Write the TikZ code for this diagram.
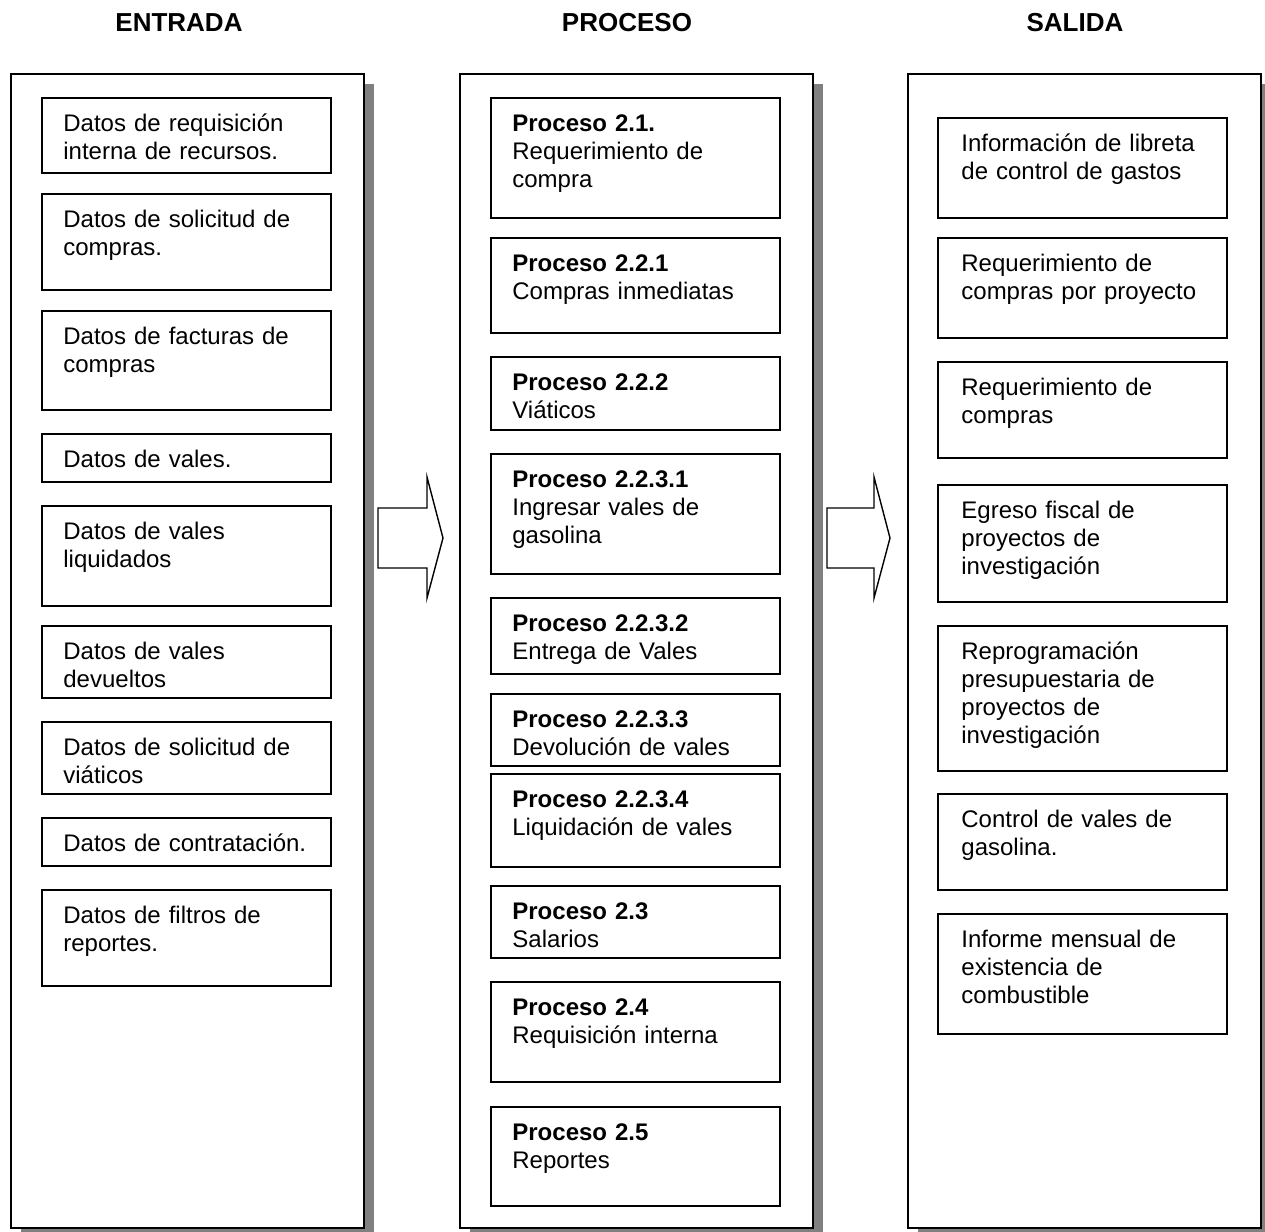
\documentclass[tikz,border=0pt]{standalone}
\usepackage{fontspec}
\setmainfont{Liberation Sans}
\usetikzlibrary{positioning, shadows}

\begin{document}
\begin{tikzpicture}[
    x=0.5pt, y=-0.5pt,
    header/.style={font=\fontsize{13}{15}\selectfont\bfseries, inner sep=0, anchor=base},
    panel/.style={draw, line width=0.9pt, fill=white, anchor=north west, minimum width=176.5pt, minimum height=577pt,
        drop shadow={shadow xshift=5pt, shadow yshift=-5pt, fill=black!50, opacity=1}},
    caja/.style={draw, line width=0.85pt, fill=white, minimum width=144.5pt, inner sep=0, outer sep=0},
    txt/.style={font=\fontsize{12}{14}\selectfont, inner sep=0, anchor=base west, text width=135pt, align=left},
    flecha/.style={draw, line width=0.7pt, fill=white, line join=miter}
]
    \useasboundingbox (0,0) rectangle (1265,1232);

    % Titles
    \node[header] (hent) at (179,31) {ENTRADA};
    \node[header] (hpro) at (627,31) {PROCESO};
    \node[header] (hsal) at (1075,31) {SALIDA};

    % Panels
    \node[panel] (entrada) at (10,73) {};
    \node[panel] (proceso) at (459,73) {};
    \node[panel] (salida) at (907,73) {};

    % Entrada
    \node[caja, anchor=north west, minimum height=37.5pt] (e1) at (42,98) {};
    \node[caja, below=10.5pt of e1, minimum height=48pt] (e2) {};
    \node[caja, below=10.5pt of e2, minimum height=49.5pt] (e3) {};
    \node[caja, below=12pt of e3, minimum height=24pt] (e4) {};
    \node[caja, below=12pt of e4, minimum height=50pt] (e5) {};
    \node[caja, below=10pt of e5, minimum height=36pt] (e6) {};
    \node[caja, below=12pt of e6, minimum height=36pt] (e7) {};
    \node[caja, below=12pt of e7, minimum height=24pt] (e8) {};
    \node[caja, below=12pt of e8, minimum height=48pt] (e9) {};

    \node[txt] (e1t) at ([xshift=10.5pt, yshift=-16.5pt]e1.north west) {Datos de requisición\\interna de recursos.};
    \node[txt] (e2t) at ([xshift=10.5pt, yshift=-16.5pt]e2.north west) {Datos de solicitud de\\compras.};
    \node[txt] (e3t) at ([xshift=10.5pt, yshift=-16.5pt]e3.north west) {Datos de facturas de\\compras};
    \node[txt] (e4t) at ([xshift=10.5pt, yshift=-16.5pt]e4.north west) {Datos de vales.};
    \node[txt] (e5t) at ([xshift=10.5pt, yshift=-16.5pt]e5.north west) {Datos de vales\\liquidados};
    \node[txt] (e6t) at ([xshift=10.5pt, yshift=-16.5pt]e6.north west) {Datos de vales\\devueltos};
    \node[txt] (e7t) at ([xshift=10.5pt, yshift=-16.5pt]e7.north west) {Datos de solicitud de\\viáticos};
    \node[txt] (e8t) at ([xshift=10.5pt, yshift=-16.5pt]e8.north west) {Datos de contratación.};
    \node[txt] (e9t) at ([xshift=10.5pt, yshift=-16.5pt]e9.north west) {Datos de filtros de\\reportes.};

    % Proceso
    \node[caja, anchor=north west, minimum height=60pt] (p1) at (491,98) {};
    \node[caja, below=10pt of p1, minimum height=47.5pt] (p2) {};
    \node[caja, below=12pt of p2, minimum height=36.5pt] (p3) {};
    \node[caja, below=12pt of p3, minimum height=60pt] (p4) {};
    \node[caja, below=12pt of p4, minimum height=38pt] (p5) {};
    \node[caja, below=10pt of p5, minimum height=36pt] (p6) {};
    \node[caja, below=4pt of p6, minimum height=46.5pt] (p7) {};
    \node[caja, below=9.5pt of p7, minimum height=36pt] (p8) {};
    \node[caja, below=12pt of p8, minimum height=50pt] (p9) {};
    \node[caja, below=12.5pt of p9, minimum height=49.5pt] (p10) {};

    \node[txt] (p1t) at ([xshift=10.5pt, yshift=-16.5pt]p1.north west) {\textbf{Proceso 2.1.}\\Requerimiento de\\compra};
    \node[txt] (p2t) at ([xshift=10.5pt, yshift=-16.5pt]p2.north west) {\textbf{Proceso 2.2.1}\\Compras inmediatas};
    \node[txt] (p3t) at ([xshift=10.5pt, yshift=-16.5pt]p3.north west) {\textbf{Proceso 2.2.2}\\Viáticos};
    \node[txt] (p4t) at ([xshift=10.5pt, yshift=-16.5pt]p4.north west) {\textbf{Proceso 2.2.3.1}\\Ingresar vales de\\gasolina};
    \node[txt] (p5t) at ([xshift=10.5pt, yshift=-16.5pt]p5.north west) {\textbf{Proceso 2.2.3.2}\\Entrega de Vales};
    \node[txt] (p6t) at ([xshift=10.5pt, yshift=-16.5pt]p6.north west) {\textbf{Proceso 2.2.3.3}\\Devolución de vales};
    \node[txt] (p7t) at ([xshift=10.5pt, yshift=-16.5pt]p7.north west) {\textbf{Proceso 2.2.3.4}\\Liquidación de vales};
    \node[txt] (p8t) at ([xshift=10.5pt, yshift=-16.5pt]p8.north west) {\textbf{Proceso 2.3}\\Salarios};
    \node[txt] (p9t) at ([xshift=10.5pt, yshift=-16.5pt]p9.north west) {\textbf{Proceso 2.4}\\Requisición interna};
    \node[txt] (p10t) at ([xshift=10.5pt, yshift=-16.5pt]p10.north west) {\textbf{Proceso 2.5}\\Reportes};

    % Salida
    \node[caja, anchor=north west, minimum height=50pt] (s1) at (938,118) {};
    \node[caja, below=10pt of s1, minimum height=50pt] (s2) {};
    \node[caja, below=12pt of s2, minimum height=48pt] (s3) {};
    \node[caja, below=13.5pt of s3, minimum height=58.5pt] (s4) {};
    \node[caja, below=12pt of s4, minimum height=72.5pt] (s5) {};
    \node[caja, below=11.5pt of s5, minimum height=48pt] (s6) {};
    \node[caja, below=12pt of s6, minimum height=60pt] (s7) {};

    \node[txt] (s1t) at ([xshift=11.5pt, yshift=-16.5pt]s1.north west) {Información de libreta\\de control de gastos};
    \node[txt] (s2t) at ([xshift=11.5pt, yshift=-16.5pt]s2.north west) {Requerimiento de\\compras por proyecto};
    \node[txt] (s3t) at ([xshift=11.5pt, yshift=-16.5pt]s3.north west) {Requerimiento de\\compras};
    \node[txt] (s4t) at ([xshift=11.5pt, yshift=-16.5pt]s4.north west) {Egreso fiscal de\\proyectos de\\investigación};
    \node[txt] (s5t) at ([xshift=11.5pt, yshift=-16.5pt]s5.north west) {Reprogramación\\presupuestaria de\\proyectos de\\investigación};
    \node[txt] (s6t) at ([xshift=11.5pt, yshift=-16.5pt]s6.north west) {Control de vales de\\gasolina.};
    \node[txt] (s7t) at ([xshift=11.5pt, yshift=-16.5pt]s7.north west) {Informe mensual de\\existencia de\\combustible};

    % Block arrows
    \coordinate (flecha1) at (378,538);
    \coordinate (flecha2) at (827,538);
    \draw[flecha] (flecha1) ++(0,-30) -- ++(49,0) -- ++(0,-31) -- ++(16,61) -- ++(-16,60) -- ++(0,-30) -- ++(-49,0) -- cycle;
    \draw[flecha] (flecha2) ++(0,-30) -- ++(47,0) -- ++(0,-31) -- ++(16,61) -- ++(-16,60) -- ++(0,-30) -- ++(-47,0) -- cycle;
\end{tikzpicture}
\end{document}
